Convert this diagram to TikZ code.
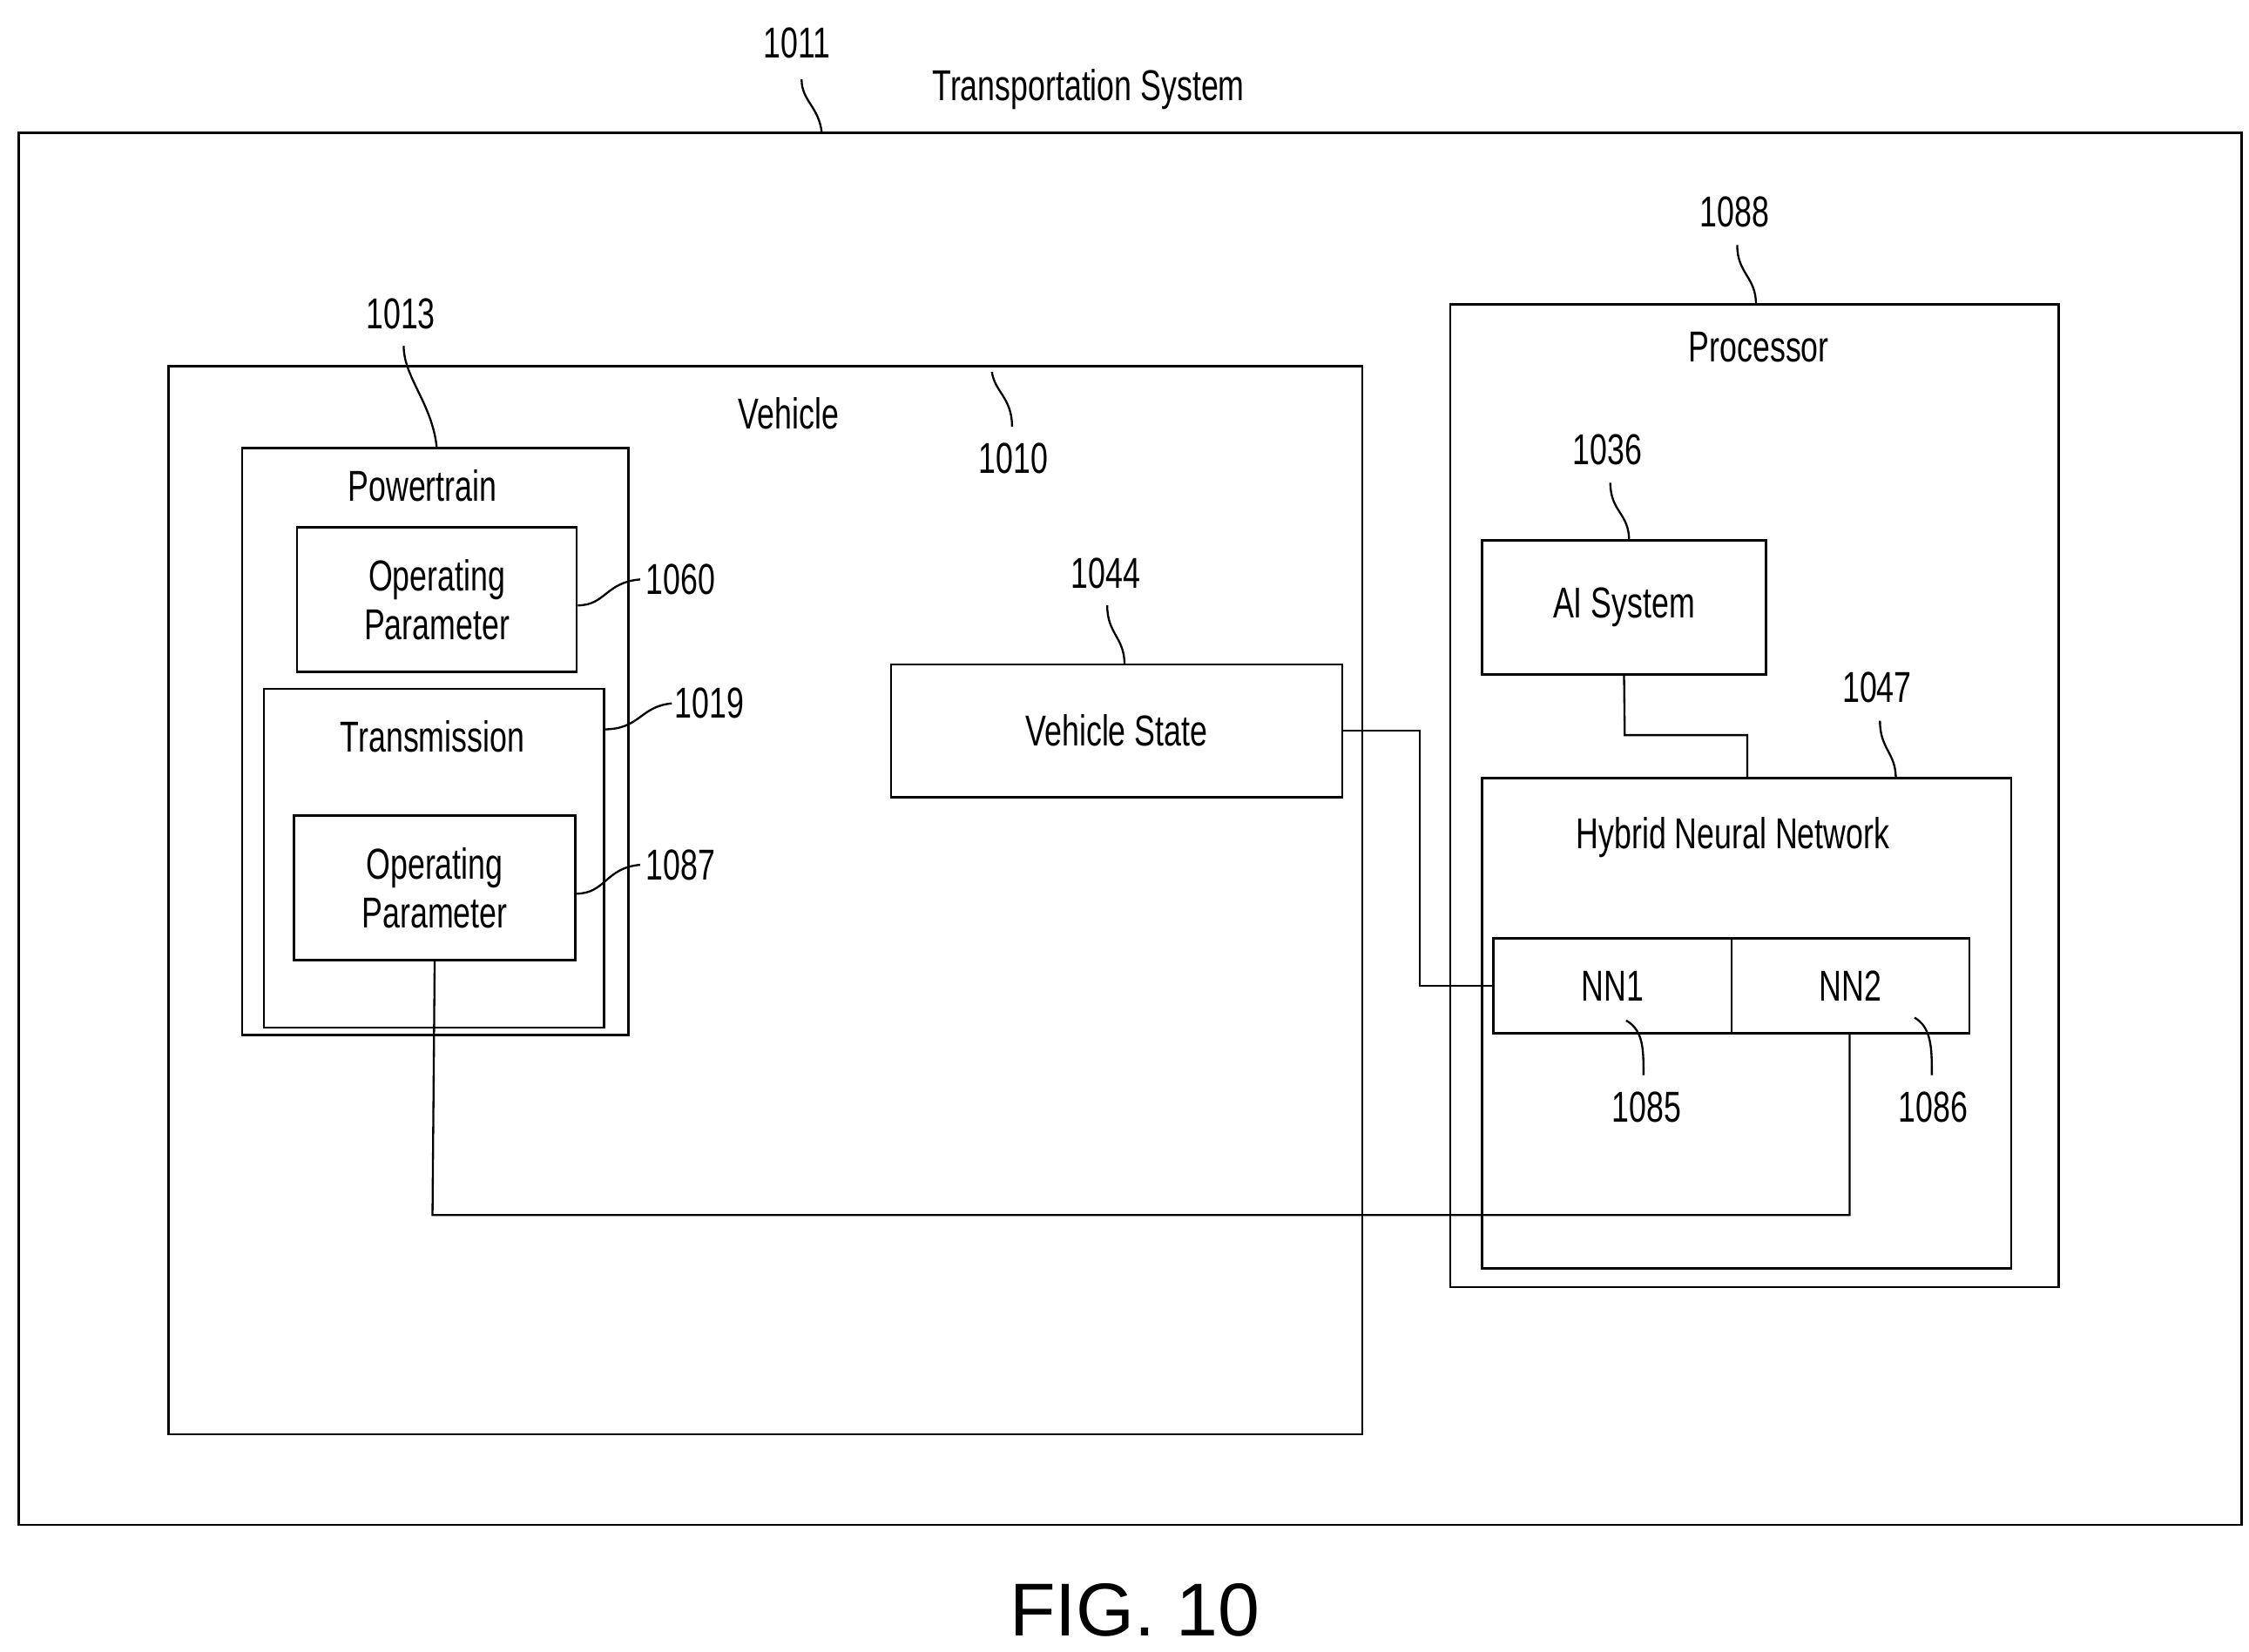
\documentclass[tikz,border=0pt]{standalone}
\usepackage{fontspec}
\setmainfont{Liberation Sans}
\newcommand{\cn}[1]{\scalebox{0.72}[1]{#1}}
\begin{document}
\begin{tikzpicture}[x=1pt,y=-1pt,
  box/.style={draw,line width=1.6pt},
  ln/.style={draw,line width=1.4pt},
  lbl/.style={font=\fontsize{30}{32}\selectfont,inner sep=0pt},
  txt/.style={font=\fontsize{30}{34}\selectfont,inner sep=0pt,align=center}]
\useasboundingbox (0,0) rectangle (1560,1146);
% outer
\node[box,minimum width=1542pt,minimum height=966pt,inner sep=0pt] (sys) at (784,575) {};
\node[lbl] (l1011) at (553,30) {\cn{1011}};
\node[txt] (tsys) at (755,62) {\cn{Transportation System}};
\draw[ln] (556,55) .. controls (556,70) and (568,74) .. (570,92);
% vehicle
\node[box,minimum width=828pt,minimum height=741pt,inner sep=0pt] (veh) at (531,624.5) {};
\node[txt] (tveh) at (547,287) {\cn{Vehicle}};
\node[lbl] (l1010) at (703,318) {\cn{1010}};
\draw[ln] (688,258) .. controls (690,272) and (702,276) .. (702,296);
% powertrain
\node[box,minimum width=268pt,minimum height=407pt,inner sep=0pt] (pt) at (302,514.5) {};
\node[txt] (tpt) at (293,337) {\cn{Powertrain}};
\node[lbl] (l1013) at (278,218) {\cn{1013}};
\draw[ln] (280,240) .. controls (280,262) and (300,280) .. (303,311);
\node[box,minimum width=194pt,minimum height=100pt,inner sep=0pt,txt] (op1) at (303,416) {\cn{Operating}\\\cn{Parameter}};
\node[lbl] (l1060) at (472,402) {\cn{1060}};
\draw[ln] (op1.east) ++(0,4) .. controls (420,420) and (420,404) .. (444,402);
% transmission
\node[box,minimum width=236pt,minimum height=235pt,inner sep=0pt] (tr) at (301,595.5) {};
\node[txt] (ttr) at (300,511) {\cn{Transmission}};
\node[lbl] (l1019) at (492,488) {\cn{1019}};
\draw[ln] (419,506) .. controls (444,506) and (444,490) .. (466,488);
\node[box,minimum width=195pt,minimum height=100pt,inner sep=0pt,txt] (op2) at (301.5,616) {\cn{Operating}\\\cn{Parameter}};
\node[lbl] (l1087) at (472,600) {\cn{1087}};
\draw[ln] (op2.east) ++(0,4) .. controls (420,620) and (420,602) .. (444,600);
% vehicle state
\node[box,minimum width=313pt,minimum height=92pt,inner sep=0pt,txt] (vs) at (774.5,507) {\cn{Vehicle State}};
\node[lbl] (l1044) at (767,398) {\cn{1044}};
\draw[ln] (768,420) .. controls (768,440) and (780,442) .. (780,461);
% processor
\node[box,minimum width=422pt,minimum height=682pt,inner sep=0pt] (proc) at (1217,552) {};
\node[txt] (tproc) at (1220,241) {\cn{Processor}};
\node[lbl] (l1088) at (1203,147) {\cn{1088}};
\draw[ln] (1205,170) .. controls (1205,190) and (1218,192) .. (1218,211);
\node[box,minimum width=197pt,minimum height=93pt,inner sep=0pt,txt] (ai) at (1126.5,421.5) {\cn{AI System}};
\node[lbl] (l1036) at (1115,312) {\cn{1036}};
\draw[ln] (1117,335) .. controls (1117,355) and (1130,356) .. (1130,375);
\node[box,minimum width=367pt,minimum height=340pt,inner sep=0pt] (hnn) at (1211.5,710) {};
\node[txt] (thnn) at (1202,581) {\cn{Hybrid Neural Network}};
\node[lbl] (l1047) at (1302,477) {\cn{1047}};
\draw[ln] (1304,500) .. controls (1304,520) and (1315,522) .. (1315,540);
\node[box,minimum width=165pt,minimum height=66pt,inner sep=0pt,txt] (nn1) at (1118.5,684) {\cn{NN1}};
\node[box,minimum width=165pt,minimum height=66pt,inner sep=0pt,txt] (nn2) at (1283.5,684) {\cn{NN2}};
\node[lbl] (l1085) at (1142,768) {\cn{1085}};
\draw[ln] (1128,708) .. controls (1140,715) and (1140,728) .. (1140,746);
\node[lbl] (l1086) at (1341,768) {\cn{1086}};
\draw[ln] (1328,706) .. controls (1340,713) and (1340,728) .. (1340,746);
% connectors
\draw[ln] (ai.south) -- (1127,510) -- (1212,510) -- (1212,540);
\draw[ln] (vs.east) -- (985,507) -- (985,684) -- (nn1.west);
\draw[ln] (op2.south) -- (300,843) -- (1283,843) -- (1283,717);
\node[inner sep=0pt,font=\fontsize{52}{56}\selectfont] (fig) at (787,1117) {FIG. 10};
\end{tikzpicture}
\end{document}
